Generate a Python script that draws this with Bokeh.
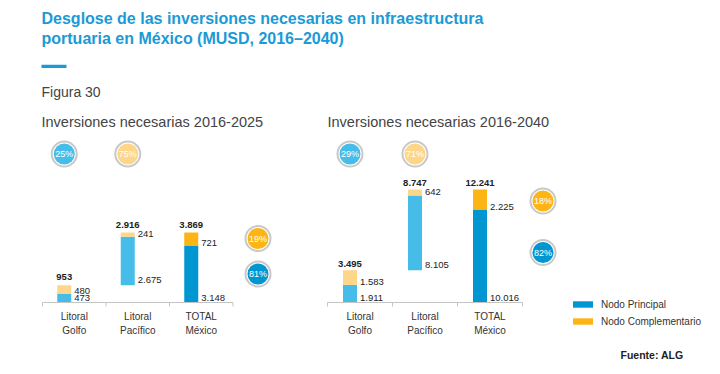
from bokeh.plotting import figure
from bokeh.models import Range1d, ColumnDataSource, Legend, LegendItem
from bokeh.core.properties import value
from bokeh.embed import file_html
from bokeh.resources import INLINE

# ---------------- data ----------------
categories = ["Litoral\nGolfo", "Litoral\nPacífico", "TOTAL\nMéxico"]
principal_2016_2025 = [473, 2675, 3148]
complementario_2016_2025 = [480, 241, 721]
total_2016_2025 = [953, 2916, 3869]
principal_2016_2040 = [1911, 8105, 10016]
complementario_2016_2040 = [1583, 642, 2225]
total_2016_2040 = [3495, 8747, 12241]
region_share_2016_2025 = ["25%", "75%"]
node_share_2016_2025 = ["19%", "81%"]
region_share_2016_2040 = ["29%", "71%"]
node_share_2016_2040 = ["18%", "82%"]
series_names = ["Nodo Principal", "Nodo Complementario"]

# ---------------- style ----------------
FONT = "Liberation Sans"
BLUE_TITLE = "#1a9ad6"
LIGHT_BLUE = "#45bde8"
LIGHT_ORANGE = "#fed68a"
DARK_BLUE = "#0096d1"
ORANGE = "#fdb515"
TXT = "#222222"

W, H = 720, 374
p = figure(width=W, height=H, x_range=Range1d(0, W), y_range=Range1d(H, 0),
           output_backend="svg", toolbar_location=None, min_border=0,
           x_axis_location=None, y_axis_location=None)
p.grid.visible = False
p.outline_line_color = None
p.background_fill_color = "white"
p.border_fill_color = "white"


def fmt(v):
    return f"{v:,}".replace(",", ".")


def txt(x, y, s, size="10px", color=TXT, style="normal", align="left", baseline="middle", **kw):
    p.text(x=[x], y=[y], text=[s], text_font=value(FONT), text_font_size=size,
           text_color=color, text_font_style=style, text_align=align,
           text_baseline=baseline, **kw)


# header
txt(41, 18, "Desglose de las inversiones necesarias en infraestructura", size="16px",
    color=BLUE_TITLE, style="bold")
txt(41, 38, "portuaria en México (MUSD, 2016–2040)", size="16px", color=BLUE_TITLE, style="bold")
p.quad(left=[41], right=[66], top=[64.3], bottom=[67.5], fill_color=BLUE_TITLE, line_color=None)
txt(41, 91, "Figura 30", size="14px", color="#444444")


def circle_badge(xs, ys, labels, color, x_range_name="default"):
    kw = {}
    if x_range_name != "default":
        kw["x_range_name"] = x_range_name
    p.scatter(x=xs, y=ys, marker="circle", size=25, fill_color="white",
              line_color="#c8c8c8", line_width=2, **kw)
    p.scatter(x=xs, y=ys, marker="circle", size=21, fill_color=color, line_color=None, **kw)
    p.text(x=xs, y=ys, text=labels, text_font=value(FONT), text_font_size="9px",
           text_color="white", text_align="center", text_baseline="middle", **kw)


def draw_chart(key, title, principal, complementario, totals, region_share, node_share,
               b0, sp, y0, px_total, title_x, node_x, node_y, total_off):
    k = px_total / totals[2]
    s = -0.5 - b0 / sp
    p.extra_x_ranges[key] = Range1d(s, s + W / sp)
    ys = (y0 - H) / k
    p.extra_y_ranges[key] = Range1d(ys, ys + H / k)
    rk = dict(x_range_name=key, y_range_name=key)

    off = -10 / sp
    bw = 14 / sp
    xs = [i + off for i in range(len(categories))]
    base = [0, totals[0], 0]
    mid = [b + v for b, v in zip(base, principal)]
    top = [m + v for m, v in zip(mid, complementario)]

    renderers = {}
    for idx, cb, co, tag in (([0, 1], LIGHT_BLUE, LIGHT_ORANGE, "light"), ([2], DARK_BLUE, ORANGE, "dark")):
        src = ColumnDataSource(dict(x=[xs[i] for i in idx], base=[base[i] for i in idx],
                                    mid=[mid[i] for i in idx], top=[top[i] for i in idx]))
        rb = p.vbar(x="x", width=bw, bottom="base", top="mid", source=src,
                    fill_color=cb, line_color=None, **rk)
        ro = p.vbar(x="x", width=bw, bottom="mid", top="top", source=src,
                    fill_color=co, line_color=None, **rk)
        renderers[tag] = (rb, ro)

    # axis line and ticks
    n = len(categories)
    p.segment(x0=[-0.5], x1=[n - 0.5], y0=[0], y1=[0], line_color="#c4c4c4", line_width=1, **rk)
    bounds = [i - 0.5 for i in range(n + 1)]
    p.segment(x0=bounds, x1=bounds, y0=[0] * len(bounds), y1=[-4 / k] * len(bounds),
              line_color="#c4c4c4", line_width=1, **rk)
    p.text(x=list(range(n)), y=[0] * n, text=categories, text_font=value(FONT),
           text_font_size="10px", text_color="#333333", text_align="center",
           text_baseline="top", y_offset=8, text_line_height=1.3, **rk)

    # value labels
    p.text(x=xs, y=top, text=[fmt(v) for v in totals], text_font=value(FONT),
           text_font_size="9.5px", text_font_style="bold", text_color=TXT,
           text_align="center", text_baseline="middle", y_offset=total_off, **rk)
    xr = [x + bw / 2 for x in xs]
    p.text(x=xr, y=mid, text=[fmt(v) for v in complementario], text_font=value(FONT),
           text_font_size="9.5px", text_color=TXT, text_align="left",
           text_baseline="middle", x_offset=3, y_offset=-3, **rk)
    p.text(x=xr, y=base, text=[fmt(v) for v in principal], text_font=value(FONT),
           text_font_size="9.5px", text_color=TXT, text_align="left",
           text_baseline="middle", x_offset=3, y_offset=-5, **rk)

    # title
    txt(title_x, 121, title, size="14.5px", color="#444444")

    # share badges
    circle_badge([xs[0]], [153.5], [region_share[0]], LIGHT_BLUE, x_range_name=key)
    circle_badge([xs[1]], [153.5], [region_share[1]], LIGHT_ORANGE, x_range_name=key)
    circle_badge([node_x], [node_y[0]], [node_share[0]], ORANGE)
    circle_badge([node_x], [node_y[1]], [node_share[1]], DARK_BLUE)
    return renderers


draw_chart("a", "Inversiones necesarias 2016-2025", principal_2016_2025, complementario_2016_2025,
           total_2016_2025, region_share_2016_2025, node_share_2016_2025,
           b0=42, sp=63.5, y0=302, px_total=70, title_x=41, node_x=257.5, node_y=(238, 273.5),
           total_off=-8)
rend = draw_chart("b", "Inversiones necesarias 2016-2040", principal_2016_2040, complementario_2016_2040,
                  total_2016_2040, region_share_2016_2040, node_share_2016_2040,
                  b0=327, sp=65, y0=302, px_total=113, title_x=327, node_x=542.5, node_y=(200.5, 252),
                  total_off=-6.5)

legend = Legend(items=[LegendItem(label=series_names[0], renderers=[rend["dark"][0]]),
                       LegendItem(label=series_names[1], renderers=[rend["dark"][1]])],
                location=(570, 46), orientation="vertical", glyph_width=25, glyph_height=8,
                label_height=14, spacing=3, padding=0, margin=0, label_standoff=6,
                label_text_font=FONT, label_text_font_size="10px", label_text_color="#333333",
                border_line_color=None, background_fill_alpha=0)
p.add_layout(legend)

txt(620, 354, "Fuente: ALG", size="10.5px", style="bold", color=TXT)

open("out.html", "w").write(file_html(p, INLINE))
